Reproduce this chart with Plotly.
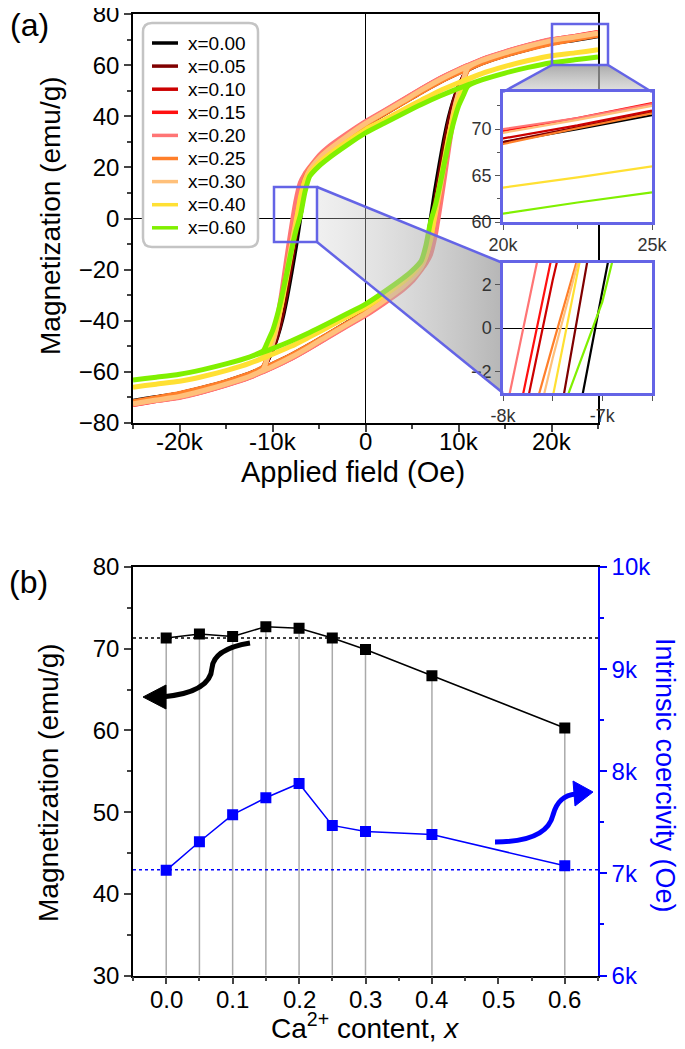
import plotly.graph_objects as go

W, H = 685, 1049
PAGE_PAD = 8  # the page's body margin shifts the figure by 8 px
FONT = "Liberation Sans, Arial, sans-serif"

# ---- panel (a): hysteresis loops, descending branch (Oe, emu/g)
H_DESC = [25000, 22500, 20000, 17500, 15000, 12500, 11000, 10000, 8000, 6000, 4000, 2000, 0,
          -2000, -4000, -5000, -6000, -6500, -7000, -7500, -8000, -8500, -9000,
          -9500, -10000, -10500, -11000, -12500, -15000, -17500, -20000, -22500, -25000]

M_X000 = [71.5, 70.0, 68.6, 66.4, 63.9, 60.9, 58.7, 57.1, 53.6, 49.6, 45.3, 41.0, 36.8,
          31.8, 26.4, 23.0, 18.0, 13.5, 1.7, -10.3, -21.0, -31.0, -39.5,
          -46.0, -51.0, -55.0, -58.2, -60.9, -63.9, -66.4, -68.6, -70.0, -71.5]
M_X005 = [71.8, 70.2, 68.6, 66.5, 64.0, 61.0, 58.8, 57.2, 53.7, 49.7, 45.4, 41.0, 36.8,
          31.8, 26.4, 23.0, 18.3, 14.5, 7.0, -6.0, -17.5, -28.5, -38.0,
          -45.5, -51.0, -55.0, -58.3, -61.0, -64.0, -66.5, -68.6, -70.2, -71.8]
M_X010 = [72.0, 70.4, 69.0, 66.9, 64.4, 61.4, 59.1, 57.5, 54.0, 50.0, 45.7, 41.4, 37.1,
          32.2, 26.9, 23.6, 19.2, 16.5, 12.0, 2.2, -8.8, -20.5, -32.0,
          -41.5, -48.5, -54.0, -58.6, -61.4, -64.4, -66.9, -69.0, -70.4, -72.0]
M_X015 = [72.8, 71.2, 69.8, 67.7, 65.1, 62.1, 59.8, 58.2, 54.7, 50.6, 46.2, 41.9, 37.6,
          32.7, 27.4, 24.0, 19.6, 17.0, 13.0, 3.5, -7.5, -19.0, -31.0,
          -41.0, -48.5, -54.0, -59.2, -62.1, -65.1, -67.7, -69.8, -71.2, -72.8]
M_X020 = [72.7, 71.2, 70.0, 67.8, 65.2, 62.2, 59.9, 58.3, 54.8, 50.7, 46.4, 42.1, 37.9,
          33.1, 27.9, 24.6, 20.0, 17.5, 14.0, 6.5, -4.5, -16.5, -29.0,
          -40.0, -48.0, -53.5, -59.3, -62.2, -65.2, -67.8, -70.0, -71.2, -72.7]
M_X025 = [71.7, 70.1, 68.4, 66.3, 63.8, 60.8, 58.6, 57.0, 53.5, 49.5, 45.2, 41.0, 36.8,
          32.0, 26.8, 23.5, 19.3, 15.8, 7.2, -0.8, -10.0, -21.0, -32.0,
          -41.5, -48.5, -53.5, -58.1, -60.8, -63.8, -66.3, -68.4, -70.1, -71.7]
M_X030 = [72.5, 71.0, 69.6, 67.4, 64.8, 61.8, 59.5, 57.9, 54.3, 50.2, 45.8, 41.5, 37.2,
          32.2, 26.8, 23.5, 19.0, 15.0, 7.3, -1.4, -11.0, -22.0, -32.5,
          -42.0, -49.0, -54.0, -59.0, -61.8, -64.8, -67.4, -69.6, -71.0, -72.5]
M_X040 = [66.0, 64.8, 63.7, 61.8, 59.5, 56.7, 54.6, 53.1, 50.0, 46.3, 42.5, 38.6, 34.8,
          30.0, 24.8, 21.8, 17.6, 14.5, 8.3, -3.2, -13.5, -23.5, -33.0,
          -40.5, -46.5, -51.0, -54.2, -56.7, -59.5, -61.8, -63.7, -64.8, -66.0]
M_X060 = [63.2, 62.1, 60.9, 59.1, 56.9, 54.2, 52.3, 50.9, 47.9, 44.6, 41.0, 37.3, 33.5,
          28.7, 23.5, 20.5, 16.5, 10.5, 1.2, -5.0, -13.0, -22.0, -30.5,
          -38.0, -44.0, -48.0, -51.8, -54.2, -56.9, -59.1, -60.9, -62.1, -63.2]

LOOP_LABELS = ["x=0.00", "x=0.05", "x=0.10", "x=0.15", "x=0.20",
               "x=0.25", "x=0.30", "x=0.40", "x=0.60"]
LOOP_COLORS = ["#000000", "#800000", "#CC0000", "#FF1010", "#FF7575",
               "#FF7F2A", "#FFC07A", "#FFE033", "#80F000"]
LOOP_M = [M_X000, M_X005, M_X010, M_X015, M_X020, M_X025, M_X030, M_X040, M_X060]

A_XTICKS = [-20000, -10000, 0, 10000, 20000]
A_XTEXT = ["-20k", "-10k", "0", "10k", "20k"]

# ---- panel (b)
CA_X = [0.0, 0.05, 0.10, 0.15, 0.20, 0.25, 0.30, 0.40, 0.60]
MS = [71.3, 71.8, 71.5, 72.7, 72.5, 71.3, 69.9, 66.7, 60.3]
HC = [7030, 7310, 7575, 7740, 7880, 7470, 7410, 7380, 7075]
MS_REF = 71.3
HC_REF = 7035
B_XTICKS = [0.0, 0.1, 0.2, 0.3, 0.4, 0.5, 0.6]
B_XTEXT = ["0.0", "0.1", "0.2", "0.3", "0.4", "0.5", "0.6"]
B_HTICKS = [6000, 7000, 8000, 9000, 10000]
B_HTEXT = ["6k", "7k", "8k", "9k", "10k"]

FW, FH = W - PAGE_PAD, H - PAGE_PAD


def px(x):
    return (x - PAGE_PAD) / FW


def py(y):
    return 1 - (y - PAGE_PAD) / FH


def dom_x(x0, x1):
    return [px(x0), px(x1)]


def dom_y(y0, y1):
    return [py(y1), py(y0)]


def full_loop(m):
    # ascending branch = point reflection of the descending one
    return H_DESC + [-h for h in H_DESC], m + [-v for v in m]


fig = go.Figure()

for label, color, m in zip(LOOP_LABELS, LOOP_COLORS, LOOP_M):
    hx, my = full_loop(m)
    fig.add_trace(go.Scatter(x=hx, y=my, mode="lines", name=label, showlegend=False,
                             line=dict(color=color, width=5, shape="spline", smoothing=0.6),
                             xaxis="x", yaxis="y"))

# panel (b)
drop_x, drop_y = [], []
for xv, mv in zip(CA_X, MS):
    drop_x += [xv, xv, None]
    drop_y += [30, mv, None]
fig.add_trace(go.Scatter(x=drop_x, y=drop_y, mode="lines", showlegend=False,
                         line=dict(color="#AAAAAA", width=1.5), xaxis="x2", yaxis="y2"))
fig.add_trace(go.Scatter(x=[-0.05, 0.65], y=[MS_REF, MS_REF], mode="lines", showlegend=False,
                         line=dict(color="black", width=1.5, dash="dot"), xaxis="x2", yaxis="y2"))
fig.add_trace(go.Scatter(x=CA_X, y=MS, mode="lines+markers", showlegend=False,
                         line=dict(color="black", width=1.5),
                         marker=dict(symbol="square", size=11, color="black"),
                         xaxis="x2", yaxis="y2"))
fig.add_trace(go.Scatter(x=[-0.05, 0.65], y=[HC_REF, HC_REF], mode="lines", showlegend=False,
                         line=dict(color="#0000FF", width=1.5, dash="dot"), xaxis="x2", yaxis="y3"))
fig.add_trace(go.Scatter(x=CA_X, y=HC, mode="lines+markers", showlegend=False,
                         line=dict(color="#0000FF", width=1.5),
                         marker=dict(symbol="square", size=11, color="#0000FF"),
                         xaxis="x2", yaxis="y3"))

# pixel overlay: white inset backgrounds and grey zoom cones
for x0, y0, x1, y1 in [(503, 92, 652, 222), (503, 263, 652, 393)]:
    fig.add_trace(go.Scatter(x=[x0, x1, x1, x0, x0], y=[y0, y0, y1, y1, y0], mode="lines",
                             fill="toself", fillcolor="white", line=dict(width=0),
                             showlegend=False, hoverinfo="skip", xaxis="x3", yaxis="y4"))
fig.add_trace(go.Scatter(x=[552, 608, 652, 503, 552], y=[65, 65, 92, 92, 65], mode="lines",
                         fill="toself", line=dict(width=0), showlegend=False, hoverinfo="skip",
                         fillgradient=dict(type="vertical", start=65, stop=92,
                                           colorscale=[[0, "rgba(150,150,150,0.8)"],
                                                       [1, "rgba(205,205,205,0.6)"]]),
                         xaxis="x3", yaxis="y4"))
fig.add_trace(go.Scatter(x=[317, 503, 503, 317, 317], y=[187, 263, 393, 242, 187], mode="lines",
                         fill="toself", line=dict(width=0), showlegend=False, hoverinfo="skip",
                         fillgradient=dict(type="horizontal", start=317, stop=503,
                                           colorscale=[[0, "rgba(205,205,205,0.3)"],
                                                       [1, "rgba(150,150,150,0.7)"]]),
                         xaxis="x3", yaxis="y4"))

# insets
for color, m in zip(LOOP_COLORS, LOOP_M):
    hx, my = full_loop(m)
    for xa, ya in [("x4", "y5"), ("x5", "y6")]:
        fig.add_trace(go.Scatter(x=hx, y=my, mode="lines", showlegend=False,
                                 line=dict(color=color, width=2.2), xaxis=xa, yaxis=ya))

tick_font = dict(family=FONT, size=24, color="black")
inset_font = dict(family=FONT, size=18, color="#333333")
BLUE_FRAME = "#6464E6"

axis_common = dict(showgrid=False, ticks="outside", ticklen=7, tickwidth=1.5,
                   linecolor="black", linewidth=1.5, tickfont=tick_font,
                   ticklabeloverflow="allow")
inset_common = dict(showgrid=False, ticks="outside", ticklen=5, tickcolor="#555",
                    tickfont=inset_font, showline=True, mirror=True,
                    linecolor=BLUE_FRAME, linewidth=2.5)

fig.update_layout(
    width=FW, height=FH, margin=dict(l=0, r=0, t=0, b=0, autoexpand=False),
    paper_bgcolor="white", plot_bgcolor="rgba(0,0,0,0)",
    font=dict(family=FONT, color="black"),
    showlegend=False,
    xaxis=dict(domain=dom_x(133, 598), anchor="y", range=[-25000, 25000],
               tickvals=A_XTICKS, showticklabels=False, mirror=True,
               zeroline=True, zerolinecolor="black", zerolinewidth=1.3,
               minor=dict(dtick=5000, ticklen=4, ticks="outside"), **axis_common),
    yaxis=dict(domain=dom_y(14, 423), anchor="x", range=[-80, 80], dtick=20, mirror=True,
               zeroline=True, zerolinecolor="black", zerolinewidth=1.3,
               minor=dict(dtick=10, ticklen=4, ticks="outside"), **axis_common),
    xaxis2=dict(domain=dom_x(133, 598), anchor="y2", range=[-0.05, 0.65],
                tickvals=B_XTICKS, showticklabels=False, mirror=True, zeroline=False,
                minor=dict(dtick=0.05, ticklen=4, ticks="outside"), **axis_common),
    yaxis2=dict(domain=dom_y(567, 975.5), anchor="x2", range=[30, 80], dtick=10,
                zeroline=False, minor=dict(dtick=5, ticklen=4, ticks="outside"), **axis_common),
    yaxis3=dict(overlaying="y2", anchor="x2", side="right", range=[6000, 10000],
                tickvals=B_HTICKS, ticktext=B_HTEXT, showgrid=False, zeroline=False,
                ticks="outside", ticklen=7, tickwidth=1.5, tickcolor="#0000FF",
                linecolor="#0000FF", linewidth=1.5, showline=True, ticklabeloverflow="allow",
                tickfont=dict(family=FONT, size=24, color="#0000FF"),
                minor=dict(dtick=500, ticklen=4, ticks="outside", tickcolor="#0000FF")),
    xaxis3=dict(domain=[0, 1], anchor="y4", range=[PAGE_PAD, W], visible=False, fixedrange=True),
    yaxis4=dict(domain=[0, 1], anchor="x3", range=[H, PAGE_PAD], visible=False, fixedrange=True),
    xaxis4=dict(domain=dom_x(503, 652), anchor="y5", range=[20000, 25000],
                tickvals=[20000, 25000], ticktext=["20k", "25k"], zeroline=False,
                minor=dict(dtick=2500, ticklen=4, ticks="outside", tickcolor="#555"),
                **inset_common),
    yaxis5=dict(domain=dom_y(92, 222), anchor="x4", range=[60, 74],
                tickvals=[60, 65, 70], zeroline=False,
                minor=dict(dtick=2.5, ticklen=3, ticks="outside", tickcolor="#555"),
                **inset_common),
    xaxis5=dict(domain=dom_x(503, 652), anchor="y6", range=[-8000, -6500],
                tickvals=[-8000, -7000], ticktext=["-8k", "-7k"], zeroline=False,
                minor=dict(dtick=500, ticklen=5, ticks="outside", tickcolor="#555"),
                **inset_common),
    yaxis6=dict(domain=dom_y(263, 393), anchor="x5", range=[-3, 3],
                tickvals=[-2, 0, 2], zeroline=True, zerolinecolor="black",
                zerolinewidth=1.2, **inset_common),
)

# bottom tick labels, placed on the axis scales
for v, t in zip(A_XTICKS, A_XTEXT):
    fig.add_annotation(text=t, x=v, y=py(441), xref="x", yref="paper", showarrow=False,
                       xanchor="center", yanchor="middle", font=tick_font)
for v, t in zip(B_XTICKS, B_XTEXT):
    fig.add_annotation(text=t, x=v, y=py(999), xref="x2", yref="paper", showarrow=False,
                       xanchor="center", yanchor="middle", font=tick_font)

# decorations in pixel coordinates of the overlay axes
pix = dict(xref="x3", yref="y4", layer="above")
fig.add_shape(type="rect", x0=552, y0=24, x1=608, y1=65,
              line=dict(color=BLUE_FRAME, width=2.5), **pix)
fig.add_shape(type="rect", x0=274, y0=187, x1=317, y1=242,
              line=dict(color=BLUE_FRAME, width=2.5), **pix)
for x0, y0, x1, y1 in [(552, 65, 503, 92), (608, 65, 652, 92),
                       (317, 187, 503, 263), (317, 242, 503, 393)]:
    fig.add_shape(type="line", x0=x0, y0=y0, x1=x1, y1=y1,
                  line=dict(color=BLUE_FRAME, width=2.5), **pix)

# legend: rounded frame, line samples and labels
x0, y0, x1, y1, r = 143, 23, 258, 247, 9
fig.add_shape(type="path", fillcolor="white", line=dict(color="#C4C4C4", width=2.5),
              path=(f"M {x0 + r},{y0} L {x1 - r},{y0} Q {x1},{y0} {x1},{y0 + r} "
                    f"L {x1},{y1 - r} Q {x1},{y1} {x1 - r},{y1} L {x0 + r},{y1} "
                    f"Q {x0},{y1} {x0},{y1 - r} L {x0},{y0 + r} Q {x0},{y0} {x0 + r},{y0} Z"),
              **pix)
for i, (label, color) in enumerate(zip(LOOP_LABELS, LOOP_COLORS)):
    yy = 43 + i * 23.1
    fig.add_shape(type="line", x0=152, x1=178, y0=yy, y1=yy,
                  line=dict(color=color, width=3.5), **pix)
    fig.add_annotation(text=label, x=px(186), y=py(yy), xref="paper", yref="paper",
                       showarrow=False, xanchor="left", yanchor="middle",
                       font=dict(family=FONT, size=19, color="black"))

# curved arrows in panel (b)
fig.add_shape(type="path", line=dict(color="black", width=5),
              path="M 250,643 C 226,647 213,655 212,668 C 211,684 195,694 162,697", **pix)
fig.add_shape(type="path", fillcolor="black", line=dict(color="black", width=1),
              path="M 143,697 L 166,685 L 166,709 Z", **pix)
fig.add_shape(type="path", line=dict(color="#0000FF", width=5),
              path="M 495,842 C 530,842 549,832 553,815 C 557,800 565,795 576,794", **pix)
fig.add_shape(type="path", fillcolor="#0000FF", line=dict(color="#0000FF", width=1),
              path="M 593,792 L 573,781 L 575,806 Z", **pix)


def note(text, x, y, angle=0, size=28, color="black"):
    fig.add_annotation(text=text, x=px(x), y=py(y), xref="paper", yref="paper",
                       showarrow=False, textangle=angle, xanchor="center", yanchor="middle",
                       font=dict(family=FONT, size=size, color=color))


note("(a)", 29, 25, size=32)
note("(b)", 28, 582, size=32)
note("Magnetization (emu/g)", 50, 216, angle=-90)
note("Applied field (Oe)", 353, 472, size=29)
note("Magnetization (emu/g)", 48, 783, angle=-90)
note("Intrinsic coercivity (Oe)", 665, 775, angle=90, size=27, color="#0000FF")
note("Ca<sup>2+</sup> content, <i>x</i>", 365, 1026)

fig.write_html("out.html")
